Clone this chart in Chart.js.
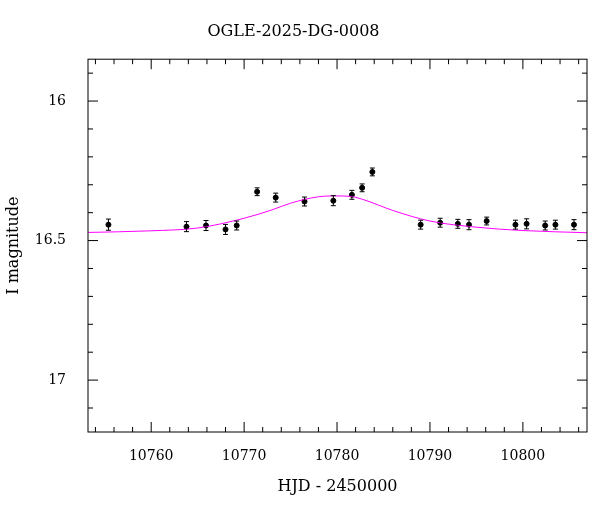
<!DOCTYPE html>
<html>
<head>
<meta charset="utf-8">
<script src="https://cdn.jsdelivr.net/npm/chart.js@4"></script>
<style>
body { margin: 0; background: #fff; }
#wrap { width: 600px; height: 512px; }
</style>
</head>
<body>
<div id="wrap"><canvas id="c"></canvas></div>
<script>
const obsHjd = [10755.4, 10763.8, 10765.9, 10768.0, 10769.2, 10771.4, 10773.4, 10776.5, 10779.6, 10781.6, 10782.7, 10783.8, 10789.0, 10791.1, 10793.0, 10794.2, 10796.1, 10799.2, 10800.4, 10802.4, 10803.5, 10805.5];
const obsMag = [16.443, 16.45, 16.446, 16.46, 16.446, 16.325, 16.346, 16.36, 16.357, 16.336, 16.311, 16.254, 16.443, 16.436, 16.44, 16.443, 16.43, 16.443, 16.44, 16.446, 16.443, 16.443];
const obsErr = [0.02, 0.018, 0.018, 0.018, 0.016, 0.014, 0.016, 0.016, 0.018, 0.016, 0.014, 0.014, 0.016, 0.016, 0.016, 0.018, 0.014, 0.016, 0.018, 0.016, 0.016, 0.018];
const modelHjd = [10753, 10760, 10765, 10770, 10773, 10775, 10778, 10780, 10781.5, 10783, 10786, 10790, 10795, 10800, 10807];
const modelMag = [16.471, 16.465, 16.455, 16.42, 16.39, 16.366, 16.343, 16.34, 16.342, 16.355, 16.392, 16.43, 16.452, 16.464, 16.472];

const font = "'DejaVu Serif', 'Liberation Serif', serif";

const framePlugin = {
  id: 'frame',
  afterDatasetsDraw(chart) {
    const { ctx, chartArea: a, scales: { x, y } } = chart;
    ctx.save();
    ctx.strokeStyle = '#000';
    ctx.lineWidth = 1;
    // error bars
    obsHjd.forEach((h, i) => {
      const px = x.getPixelForValue(h);
      const y1 = y.getPixelForValue(obsMag[i] - obsErr[i]);
      const y2 = y.getPixelForValue(obsMag[i] + obsErr[i]);
      ctx.beginPath();
      ctx.moveTo(px, y1); ctx.lineTo(px, y2);
      ctx.moveTo(px - 2.5, y1); ctx.lineTo(px + 2.5, y1);
      ctx.moveTo(px - 2.5, y2); ctx.lineTo(px + 2.5, y2);
      ctx.stroke();
    });
    ctx.strokeRect(a.left, a.top, a.right - a.left, a.bottom - a.top);
    // ticks on all four sides
    ctx.beginPath();
    for (let v = 10754; v <= 10806; v += 2) {
      const px = x.getPixelForValue(v);
      const len = v % 10 === 0 ? 10 : 5;
      ctx.moveTo(px, a.bottom); ctx.lineTo(px, a.bottom - len);
      ctx.moveTo(px, a.top); ctx.lineTo(px, a.top + len);
    }
    for (let k = 159; k <= 171; k++) {
      const py = y.getPixelForValue(k / 10);
      const len = k % 5 === 0 ? 10 : 5;
      ctx.moveTo(a.left, py); ctx.lineTo(a.left + len, py);
      ctx.moveTo(a.right, py); ctx.lineTo(a.right - len, py);
    }
    ctx.stroke();
    ctx.restore();
  }
};

new Chart(document.getElementById('c'), {
  type: 'scatter',
  data: {
    datasets: [
      {
        type: 'line',
        data: modelHjd.map((h, i) => ({ x: h, y: modelMag[i] })),
        borderColor: '#ff00ff',
        borderWidth: 1,
        pointRadius: 0,
        cubicInterpolationMode: 'monotone'
      },
      {
        data: obsHjd.map((h, i) => ({ x: h, y: obsMag[i] })),
        backgroundColor: '#000',
        borderColor: '#000',
        pointRadius: 2.5
      }
    ]
  },
  options: {
    responsive: true,
    maintainAspectRatio: false,
    animation: false,
    layout: { padding: { right: 13, top: 12, bottom: 12 } },
    plugins: {
      legend: { display: false },
      tooltip: { enabled: false },
      title: {
        display: true, text: 'OGLE-2025-DG-0008', color: '#000',
        font: { family: font, size: 16, weight: 'normal' }, padding: { top: 10, bottom: 18 }
      }
    },
    scales: {
      x: {
        type: 'linear', min: 10753.2, max: 10806.9,
        afterBuildTicks: s => { s.ticks = [10760, 10770, 10780, 10790, 10800].map(v => ({ value: v })); },
        grid: { display: false },
        border: { display: false },
        ticks: { color: '#000', font: { family: font, size: 14 }, padding: 8, callback: v => String(v) },
        title: { display: true, text: 'HJD - 2450000', color: '#000', font: { family: font, size: 16 } }
      },
      y: {
        type: 'linear', reverse: true, min: 15.85, max: 17.186,
        afterBuildTicks: s => { s.ticks = [16, 16.5, 17].map(v => ({ value: v })); },
        afterFit: s => { s.width = 88; },
        grid: { display: false },
        border: { display: false },
        ticks: { color: '#000', font: { family: font, size: 14 }, padding: 14, callback: v => String(v) },
        title: { display: true, text: 'I magnitude', color: '#000', font: { family: font, size: 16 } }
      }
    }
  },
  plugins: [framePlugin]
});
</script>
</body>
</html>
